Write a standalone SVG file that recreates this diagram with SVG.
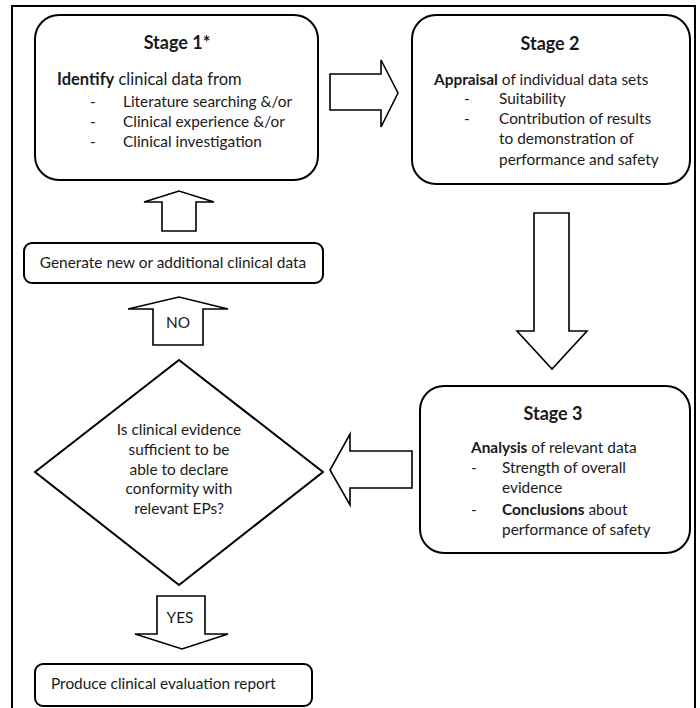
<svg xmlns="http://www.w3.org/2000/svg" width="700" height="708" viewBox="0 0 700 708">
<style>
text{font-family:Lato,"Liberation Sans",sans-serif;font-size:15.4px;fill:#1a1a1a}
.t{font-size:18px;font-weight:bold;text-anchor:middle}
.b{font-weight:bold}
.c{text-anchor:middle}
.l{font-size:16.5px}
.box{fill:#fff;stroke:#000;stroke-width:2}
.arr{fill:#fff;stroke:#000;stroke-width:1.6;stroke-linejoin:miter}
</style>
<rect x="12" y="6" width="683" height="710" fill="#fff" stroke="#000" stroke-width="2"/>
<g id="connectors">
<polygon class="arr" points="330,74 381,74 381,60 398,93 381,127 381,110 330,110"/>
<polygon class="arr" points="534,213 569,213 569,331 587,331 552,369 517,331 534,331"/>
<polygon class="arr" points="412,451 350,451 350,434 330,470 350,505 350,488 412,488"/>
<polygon class="arr" points="162,231 196,231 196,202 214,202 179,191 144,202 162,202"/>
<polygon class="arr" points="153,345 203,345 203,309 228,309 179,297 128,309 153,309"/>
<polygon class="arr" points="157,596 205,596 205,634 228,634 182,649 135,634 157,634"/>
<text class="c" x="178" y="328">NO</text>
<text class="c" x="180" y="623">YES</text>
</g>
<g id="stage1">
<rect class="box" x="35" y="15" width="283" height="165" rx="24"/>
<text class="t" x="177" y="49">Stage 1*</text>
<text class="l" x="57" y="85"><tspan class="b">Identify</tspan> clinical data from</text>
<text x="90" y="107">-</text><text x="123" y="107">Literature searching &amp;/or</text>
<text x="90" y="127">-</text><text x="123" y="127">Clinical experience &amp;/or</text>
<text x="90" y="147">-</text><text x="123" y="147">Clinical investigation</text>
</g>
<g id="stage2">
<rect class="box" x="412" y="15" width="278" height="169" rx="24"/>
<text class="t" x="550" y="50">Stage 2</text>
<text x="434" y="85"><tspan class="b">Appraisal</tspan> of individual data sets</text>
<text x="464" y="104">-</text><text x="499" y="104">Suitability</text>
<text x="464" y="124">-</text><text x="499" y="124">Contribution of results</text>
<text x="499" y="144">to demonstration of</text>
<text x="499" y="165">performance and safety</text>
</g>
<g id="stage3">
<rect class="box" x="420" y="386" width="270" height="167" rx="24"/>
<text class="t" x="553" y="420">Stage 3</text>
<text x="471" y="453"><tspan class="b">Analysis</tspan> of relevant data</text>
<text x="471" y="473">-</text><text x="502" y="473">Strength of overall</text>
<text x="502" y="493">evidence</text>
<text x="471" y="515">-</text><text x="502" y="515"><tspan class="b">Conclusions</tspan> about</text>
<text x="502" y="535">performance of safety</text>
</g>
<g id="generate">
<rect class="box" x="24" y="243" width="299" height="40" rx="8"/>
<text class="c" x="173" y="268">Generate new or additional clinical data</text>
</g>
<g id="decision">
<polygon class="box" points="179,360 323,472 179,585 35,472"/>
<text class="c" x="179" y="435">Is clinical evidence</text>
<text class="c" x="179" y="455">sufficient to be</text>
<text class="c" x="179" y="475">able to declare</text>
<text class="c" x="179" y="494">conformity with</text>
<text class="c" x="179" y="514">relevant EPs?</text>
</g>
<g id="report">
<rect class="box" x="35" y="664" width="277" height="42" rx="8"/>
<text x="51" y="689">Produce clinical evaluation report</text>
</g>
</svg>
